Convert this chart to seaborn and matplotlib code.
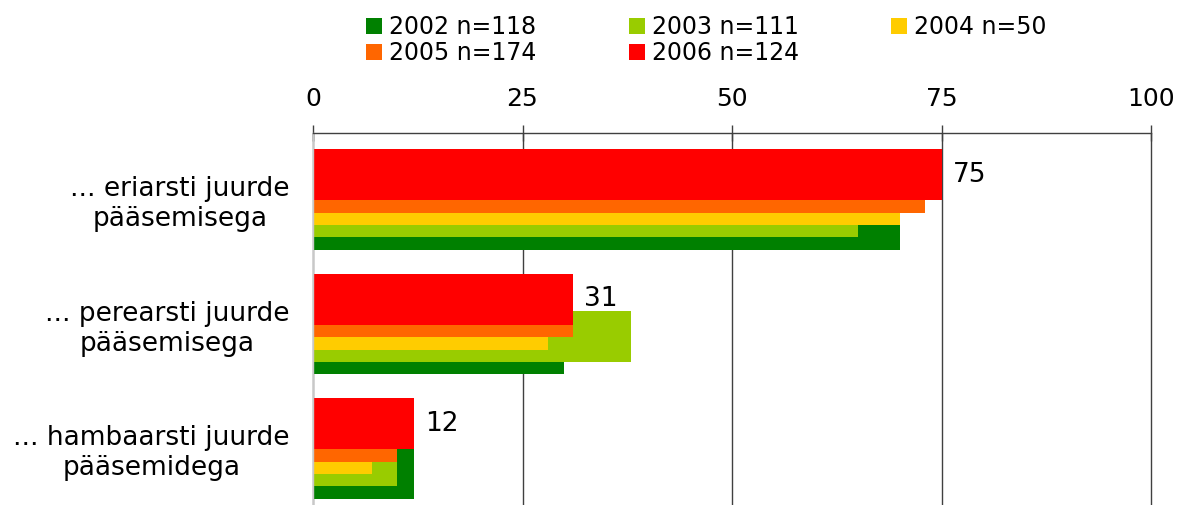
import numpy as np
import matplotlib
matplotlib.use('Agg')
import matplotlib.pyplot as plt
from matplotlib.patches import Patch
import seaborn as sns

# andmed (loetud pildilt)
categories = ['... eriarsti juurde\npääsemisega',
              '... perearsti juurde\npääsemisega',
              '... hambaarsti juurde\npääsemidega']
years = ['2002 n=118', '2003 n=111', '2004 n=50', '2005 n=174', '2006 n=124']
colors = ['#008000', '#99CC00', '#FFCC00', '#FF6600', '#FF0000']
v2002 = [70, 30, 12]
v2003 = [65, 38, 10]
v2004 = [70, 28, 7]
v2005 = [73, 31, 10]
v2006 = [75, 31, 12]
series = [v2002, v2003, v2004, v2005, v2006]
xticks = [0, 25, 50, 75, 100]

sns.set_theme(style='white')
plt.rcParams['font.family'] = ['DejaVu Sans']
plt.rcParams['text.color'] = 'black'

fig = plt.figure(figsize=(11.78, 5.05), dpi=100)
ax = fig.add_axes([313 / 1178, 0, (1151 - 313) / 1178, 372 / 505])

# kattuvad tulbad: iga järgmine aasta veidi kõrgemal ja peal
offsets = [0.2, 0.1, 0.0, -0.1, -0.2]
pos = np.arange(len(categories))
for vals, off, col in zip(series, offsets, colors):
    sns.barplot(x=vals, y=pos + off, orient='h', native_scale=True,
                width=0.41, color=col, saturation=1, linewidth=0,
                errorbar=None, ax=ax)

ax.bar_label(ax.containers[-1], labels=[f'{v:g}' for v in v2006],
             padding=8, fontsize=19, color='black')

ax.set_xlim(0, 100)
ax.set_ylim(2.454, -0.534)
ax.xaxis.tick_top()
ax.set_xticks(xticks)
ax.set_xticklabels([str(t) for t in xticks])
ax.set_yticks(pos)
ax.set_yticklabels(categories)
for lab in ax.get_yticklabels():
    lab.set_multialignment('center')
ax.set_xlabel('')
ax.set_ylabel('')

ax.tick_params(axis='x', which='both', top=True, bottom=False, direction='inout',
               length=11, width=1, color='#404040', pad=10, labelsize=18,
               labelcolor='black')
ax.tick_params(axis='y', length=0, pad=17, labelsize=19, labelcolor='black')
ax.grid(axis='x', color='#404040', lw=1)
ax.grid(axis='y', visible=False)
ax.set_axisbelow(True)
for gl in ax.get_xgridlines():
    gl.set_clip_on(False)

for s in ['right', 'bottom']:
    ax.spines[s].set_visible(False)
ax.spines['top'].set_color('#404040')
ax.spines['top'].set_linewidth(1)
ax.spines['left'].set_color('#c8c8c8')
ax.spines['left'].set_linewidth(1)

handles = [Patch(facecolor=c, edgecolor='none') for c in colors]
order = [0, 3, 1, 4, 2]
fig.legend([handles[i] for i in order], [years[i] for i in order],
           ncol=3, loc='upper left', bbox_to_anchor=(366 / 1178, 1 - 15 / 505),
           frameon=False, fontsize=17, handlelength=0.68, handleheight=0.68,
           handletextpad=0.3, columnspacing=3.9, labelspacing=0.1,
           borderpad=0, borderaxespad=0, labelcolor='black')

fig.savefig('out.png', dpi=100)
